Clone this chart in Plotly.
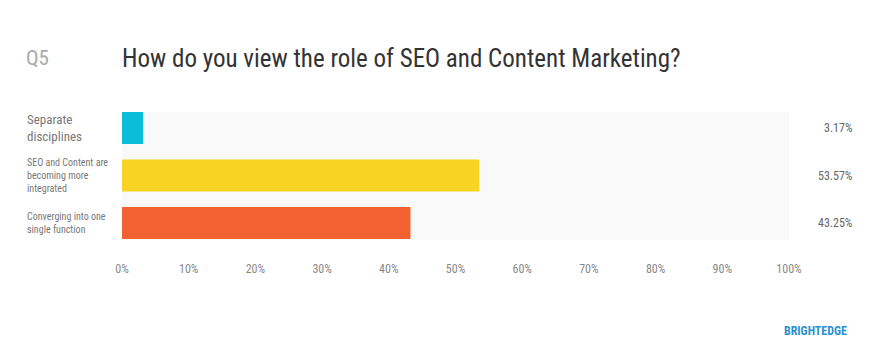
import plotly.graph_objects as go

categories = ["Separate<br>disciplines",
              "SEO and Content are<br>becoming more<br>integrated",
              "Converging into one<br>single function"]
values = [3.17, 53.57, 43.25]
value_labels = ["3.17%", "53.57%", "43.25%"]
colors = ["#0BBDD6", "#F8D323", "#F26132"]
tick_vals = [0, 10, 20, 30, 40, 50, 60, 70, 80, 90, 100]
tick_text = [f"{v}%" for v in tick_vals]
title_q = "Q5"
title_text = "How do you view the role of SEO and Content Marketing?"
brand = "BRIGHTEDGE"

FONT = "Roboto Condensed, Liberation Sans Narrow, DejaVu Sans Condensed, Roboto, sans-serif"

W, H = 886, 363
OX, OY = 8, 8  # page offset of the figure (body margin)
L, R, T, B = 122, 789, 112, 240  # page pixels of plot area
pw, ph = R - L, B - T

def px_x(p):
    return (p - L) / pw

def px_y(p):
    return (B - p) / ph

ypos = list(range(len(categories)))

fig = go.Figure()
fig.add_trace(go.Bar(
    x=values, y=ypos, orientation="h",
    marker=dict(color=colors, line=dict(width=0)),
    width=0.674, hoverinfo="skip",
))

annotations = []
label_sizes = [13, 10, 10]
for i, (c, s) in enumerate(zip(categories, label_sizes)):
    annotations.append(dict(
        xref="paper", yref="y", x=px_x(25), y=i, text=c,
        xanchor="left", yanchor="middle", align="left", showarrow=False,
        font=dict(family=FONT, size=s, color="#777777"),
    ))
for i, t in enumerate(value_labels):
    annotations.append(dict(
        xref="paper", yref="y", x=px_x(855), y=i, text=t,
        xanchor="right", yanchor="middle", align="right", showarrow=False,
        font=dict(family=FONT, size=12, color="#666666"),
    ))
annotations.append(dict(
    xref="paper", yref="paper", x=px_x(24), y=px_y(58), text=title_q,
    xanchor="left", yanchor="middle", showarrow=False,
    font=dict(family=FONT, size=21, color="#AAAAAA"),
))
annotations.append(dict(
    xref="paper", yref="paper", x=px_x(120), y=px_y(58), text=title_text,
    xanchor="left", yanchor="middle", showarrow=False,
    font=dict(family=FONT, size=25, color="#333333"),
))
annotations.append(dict(
    xref="paper", yref="paper", x=px_x(849), y=px_y(331), text="<b>" + brand + "</b>",
    xanchor="right", yanchor="middle", showarrow=False,
    font=dict(family=FONT, size=12, color="#2B8FCF"),
))

fig.update_layout(
    width=W, height=H,
    margin=dict(l=L - OX, r=W - (R - OX), t=T - OY, b=H - (B - OY), pad=0),
    paper_bgcolor="white", plot_bgcolor="#F9F9F9",
    showlegend=False,
    annotations=annotations,
    xaxis=dict(range=[0, 100], tickvals=tick_vals, ticktext=tick_text,
               showgrid=False, zeroline=False, showline=False, ticks="",
               ticklabelstandoff=20,
               tickfont=dict(family=FONT, size=12, color="#888888"),
               fixedrange=True),
    yaxis=dict(range=[2.358, -0.337], showticklabels=False, showgrid=False,
               zeroline=False, showline=False, ticks="", fixedrange=True),
    font=dict(family=FONT),
)

fig.write_html("out.html")
